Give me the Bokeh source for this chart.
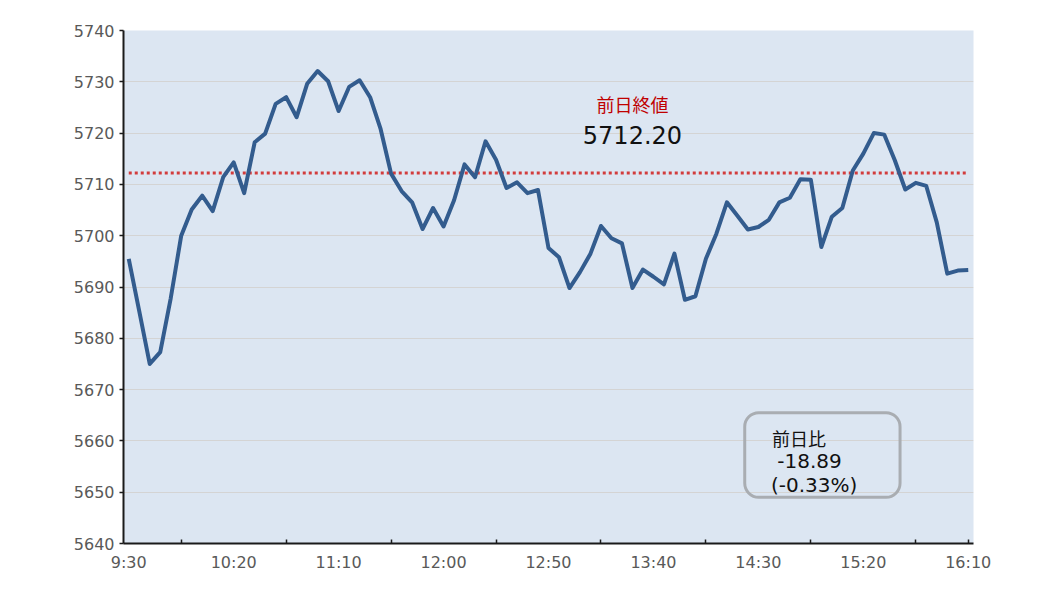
from bokeh.plotting import figure
from bokeh.models import FixedTicker, Label, BoxAnnotation
from bokeh.embed import file_html
from bokeh.resources import INLINE

# ---- data ----
prev_close = 5712.20
values = [5695.5, 5685.3, 5675.0, 5677.3, 5687.8, 5700.0, 5705.1, 5707.8, 5704.8, 5711.4,
          5714.3, 5708.3, 5718.2, 5719.9, 5725.7, 5727.0, 5723.1, 5729.6, 5732.1, 5730.1,
          5724.3, 5729.0, 5730.3, 5727.0, 5720.8, 5712.1, 5708.7, 5706.5, 5701.3, 5705.4,
          5701.8, 5706.9, 5713.9, 5711.4, 5718.4, 5714.8, 5709.3, 5710.4, 5708.3, 5708.9,
          5697.6, 5695.8, 5689.8, 5692.9, 5696.5, 5701.9, 5699.5, 5698.5, 5689.8, 5693.4,
          5692.0, 5690.5, 5696.5, 5687.5, 5688.2, 5695.5, 5700.4, 5706.5, 5703.9, 5701.2,
          5701.7, 5703.1, 5706.5, 5707.4, 5711.0, 5710.9, 5697.8, 5703.7, 5705.4, 5712.7,
          5716.0, 5720.0, 5719.7, 5714.7, 5709.0, 5710.3, 5709.7, 5702.6, 5692.6, 5693.2,
          5693.31]
tick_labels = ["9:30", "10:20", "11:10", "12:00", "12:50", "13:40", "14:30", "15:20", "16:10"]
label_step = 10
y_ticks = [5640, 5650, 5660, 5670, 5680, 5690, 5700, 5710, 5720, 5730, 5740]
change_title = "前日比"
change_abs = "-18.89"
change_pct = "(-0.33%)"
prev_title = "前日終値"
prev_text = "5712.20"

n = len(values)
xs = list(range(n))

p = figure(width=1029, height=590, output_backend="svg", toolbar_location=None,
           x_range=(-0.5, n - 0.5), y_range=(5640, 5740),
           min_border_left=123, min_border_right=56, min_border_top=30, min_border_bottom=47)
p.background_fill_color = "#DCE6F2"
p.border_fill_color = "white"
p.outline_line_color = None

# grid
p.xgrid.grid_line_color = None
p.ygrid.grid_line_color = "#D4D4D4"
p.ygrid.grid_line_width = 1

# y axis
p.yaxis.ticker = FixedTicker(ticks=y_ticks)
p.yaxis.axis_line_color = "#1a1a1a"
p.yaxis.axis_line_width = 2
p.yaxis.major_tick_line_color = "#1a1a1a"
p.yaxis.major_tick_line_width = 1.5
p.yaxis.major_tick_in = 0
p.yaxis.major_tick_out = 4
p.yaxis.minor_tick_line_color = None
p.yaxis.major_label_text_color = "#595959"
p.yaxis.major_label_text_font = "DejaVu Sans"
p.yaxis.major_label_text_font_size = "16px"
p.yaxis.major_label_standoff = 5

# x axis
label_pos = [i * label_step for i in range(len(tick_labels))]
minor_pos = [i * label_step + label_step // 2 for i in range(len(tick_labels) - 1)] + [n - 1]
p.xaxis.ticker = FixedTicker(ticks=label_pos, minor_ticks=minor_pos)
p.xaxis.major_label_overrides = {pos: lab for pos, lab in zip(label_pos, tick_labels)}
p.xaxis.axis_line_color = "#1a1a1a"
p.xaxis.axis_line_width = 2
p.xaxis.major_tick_line_color = None
p.xaxis.minor_tick_line_color = "#1a1a1a"
p.xaxis.minor_tick_line_width = 1.5
p.xaxis.minor_tick_in = 4
p.xaxis.minor_tick_out = 0
p.xaxis.major_label_text_color = "#595959"
p.xaxis.major_label_text_font = "DejaVu Sans"
p.xaxis.major_label_text_font_size = "16px"
p.xaxis.major_label_standoff = 3

# previous close dotted line
p.line(xs, [prev_close] * n, line_color="#D23C3C", line_width=3, line_dash="3 3")

# price line
p.line(xs, values, line_color="#335C8E", line_width=4, line_join="round")

# labels
p.add_layout(Label(x=48, y=5725.6, text=prev_title, text_align="center", text_baseline="middle",
                   text_color="#C00000", text_font="Noto Sans CJK JP", text_font_size="18px"))
p.add_layout(Label(x=48, y=5719.7, text=prev_text, text_align="center", text_baseline="middle",
                   text_color="#111111", text_font="DejaVu Sans", text_font_size="24px"))

box = BoxAnnotation(left=58.7, right=73.5, bottom=5649.0, top=5665.5,
                    fill_color=None, fill_alpha=0, line_color="#A9ADB2", line_alpha=1.0,
                    line_width=3, border_radius=14)
p.add_layout(box)
p.add_layout(Label(x=61.3, y=5660.5, text=change_title, text_align="left", text_baseline="middle",
                   text_color="#111111", text_font="Noto Sans CJK JP", text_font_size="18px"))
p.add_layout(Label(x=61.8, y=5656.0, text=change_abs, text_align="left", text_baseline="middle",
                   text_color="#111111", text_font="DejaVu Sans", text_font_size="20px"))
p.add_layout(Label(x=61.2, y=5651.5, text=change_pct, text_align="left", text_baseline="middle",
                   text_color="#111111", text_font="DejaVu Sans", text_font_size="20px"))

open("out.html", "w").write(file_html(p, INLINE))
